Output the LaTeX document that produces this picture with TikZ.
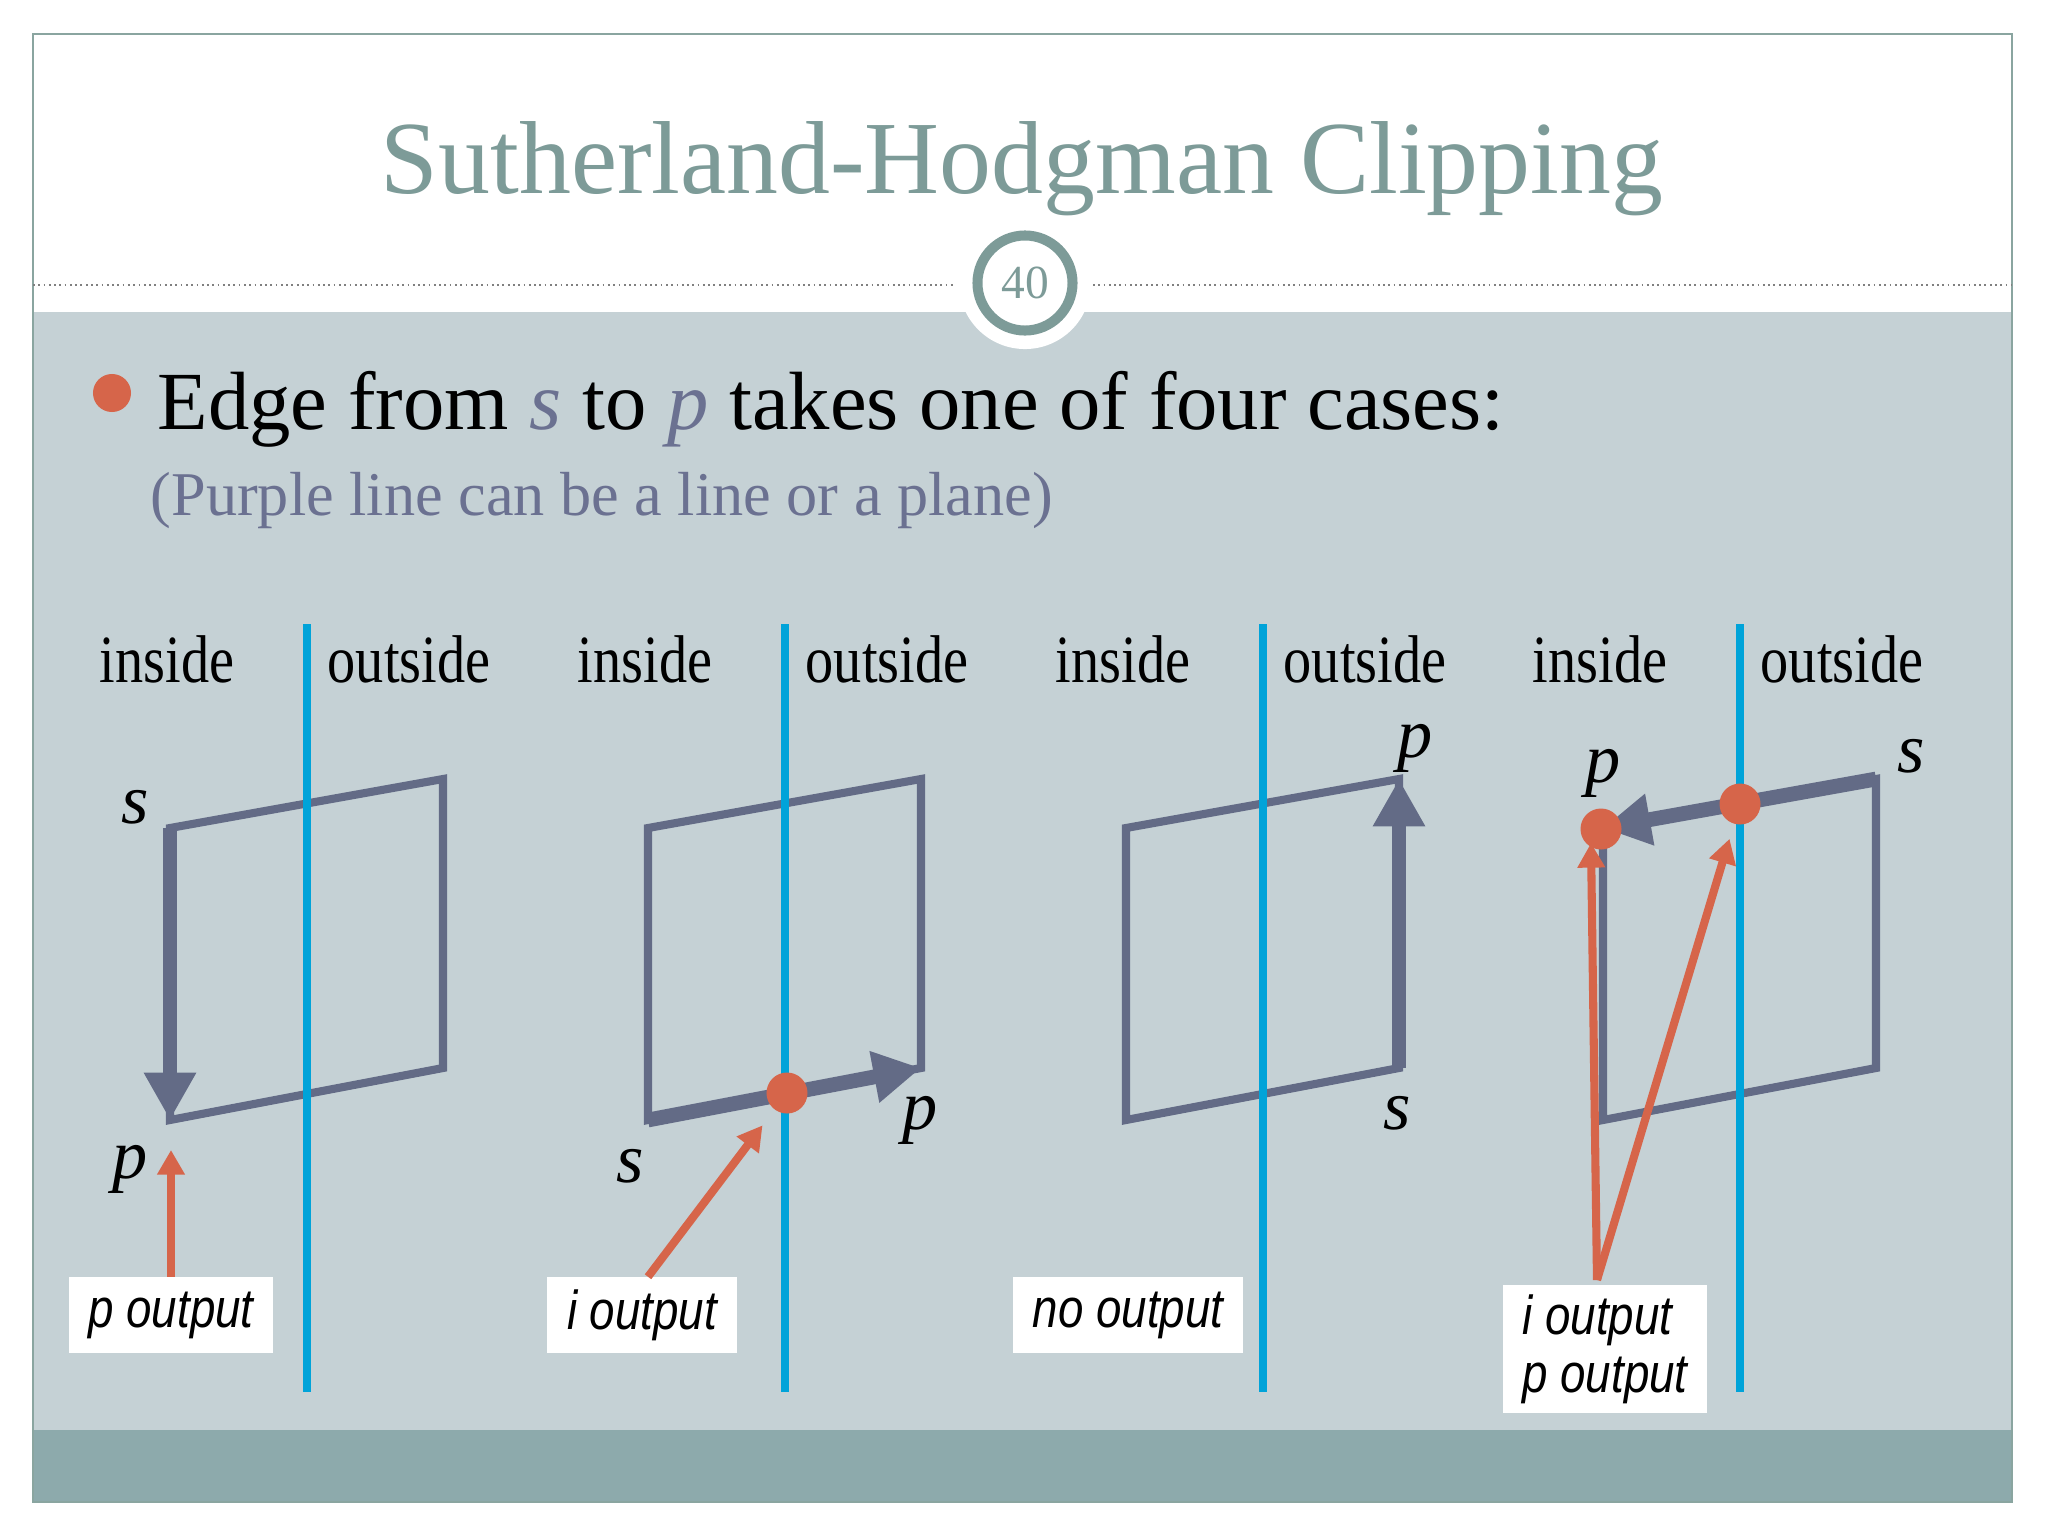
\documentclass[tikz,border=0pt]{standalone}
\usepackage{fontspec}
\setmainfont{Liberation Serif}
\newfontfamily\boxfont{Liberation Sans}
\usetikzlibrary{arrows.meta}

\definecolor{titleteal}{RGB}{125,155,152}
\definecolor{framecol}{RGB}{138,165,160}
\definecolor{slidegray}{RGB}{197,209,213}
\definecolor{bandteal}{RGB}{141,170,172}
\definecolor{edgeslate}{RGB}{99,107,134}
\definecolor{clipblue}{RGB}{0,163,217}
\definecolor{outred}{RGB}{214,101,74}
\definecolor{subslate}{RGB}{107,113,145}

\def\tall#1{\scalebox{1}[1.2]{#1}}

\begin{document}
\begin{tikzpicture}[x=0.01cm,y=-0.01cm,
    edge/.style={draw=edgeslate,line width=2.3pt,line join=miter},
    thickedge/.style={draw=edgeslate,line width=4.2pt,-{Triangle[width=14pt,length=13.5pt]}},
    clipline/.style={draw=clipblue,line width=2.3pt},
    outarrow/.style={draw=outred,line width=2.3pt,-{Triangle[width=7.5pt,length=7pt]}},
    hit/.style={circle,fill=outred,inner sep=0pt,minimum size=0.41cm},
    vtx/.style={inner sep=0pt,font=\fontsize{20pt}{22pt}\selectfont\itshape},
    side/.style={inner sep=0pt,anchor=base,font=\fontsize{16pt}{18pt}\selectfont},
    outbox/.style={fill=white,inner sep=0pt,minimum height=0.75cm,
      font=\boxfont\itshape\fontsize{13pt}{16.5pt}\selectfont}]

  \useasboundingbox (0,0) rectangle (2048,1536);
  \fill[white] (0,0) rectangle (2048,1536);

  % slide background
  \fill[slidegray] (33,312) rectangle (2012,1430);
  \fill[bandteal] (33,1430) rectangle (2012,1502);
  \draw[framecol,line width=0.6pt] (33,34) rectangle (2012,1502);
  \draw[gray,densely dotted,line width=0.5pt] (33,285) -- (955,285);
  \draw[gray,densely dotted,line width=0.5pt] (1093,285) -- (2012,285);
  \fill[white] (1025,283) circle (0.66cm);
  \node[circle,draw=titleteal,line width=2.85pt,fill=white,minimum size=0.95cm,
    inner sep=0pt,text=titleteal,font=\fontsize{13.5pt}{15pt}\selectfont] (pagenum) at (1025,283) {40};

  \node[anchor=base,inner sep=0pt,text=titleteal,font=\fontsize{29.5pt}{32pt}\selectfont]
    (title) at (1022,193) {Sutherland-Hodgman Clipping};

  \node[circle,fill=outred,inner sep=0pt,minimum size=0.38cm] (bullet) at (112,393) {};
  \node[anchor=base west,inner sep=0pt,font=\fontsize{23.5pt}{26pt}\selectfont] (lead) at (157,429)
    {Edge from \textcolor{subslate}{\textit{s}} to \textcolor{subslate}{\textit{p}} takes one of four cases:};
  \node[anchor=base west,inner sep=0pt,text=subslate,font=\fontsize{17.7pt}{20pt}\selectfont] (note) at (150,515)
    {(Purple line can be a line or a plane)};

  % the four cases
  \foreach \k/\X in {1/307,2/785,3/1263,4/1740} {
    \coordinate (tl\k) at (\X-137,828);
    \coordinate (tr\k) at (\X+136,779);
    \coordinate (br\k) at (\X+136,1068);
    \coordinate (bl\k) at (\X-137,1120);
    \draw[edge] (tl\k) -- (tr\k) -- (br\k) -- (bl\k) -- cycle;
    \draw[clipline] (\X,624) -- (\X,1392);
    \node[side] (in\k) at (\X-140,682) {\tall{inside}};
    \node[side] (out\k) at (\X+102,682) {\tall{outside}};
  }

  \draw[thickedge] (tl1) -- (bl1);
  \draw[thickedge] (bl2) -- (br2);
  \draw[thickedge] (br3) -- (tr3);
  \draw[thickedge] (tr4) -- (tl4);

  \node[vtx] (s1) at (135,807) {s};
  \node[vtx] (p1) at (130,1169) {p};
  \node[vtx] (s2) at (630,1166) {s};
  \node[vtx] (p2) at (920,1120) {p};
  \node[vtx] (p3) at (1415,748) {p};
  \node[vtx] (s3) at (1397,1113) {s};
  \node[vtx] (s4) at (1911,756) {s};
  \node[vtx] (p4) at (1603,773) {p};

  \node[outbox,minimum width=2.04cm] (box1) at (171,1315) {\tall{p output}};
  \node[outbox,minimum width=1.90cm] (box2) at (642,1315) {\tall{i output}};
  \node[outbox,minimum width=2.29cm] (box3) at (1128,1315) {\tall{no output}};
  \node[outbox,minimum width=2.04cm,minimum height=1.28cm,align=left] (box4) at (1605,1349)
    {\tall{i output}\\\tall{p output}};

  \coordinate (pmark1) at (171,1150);
  \coordinate (pmark4) at (1591,843);
  \coordinate (fork) at (1597,1280);

  \node[hit] (dot2) at (787,1093) {};
  \node[hit] (dot4) at (1740,804) {};
  \node[hit] (dotp4) at (1601,829) {};

  \draw[outarrow] (box1.north) -- (pmark1);
  \draw[outarrow,shorten >=5.5pt] ([xshift=0.06cm]box2.north) -- (dot2);
  \draw[outarrow] (fork) -- (pmark4);
  \draw[outarrow,shorten >=4.3pt] (fork) -- (dot4);
\end{tikzpicture}
\end{document}
